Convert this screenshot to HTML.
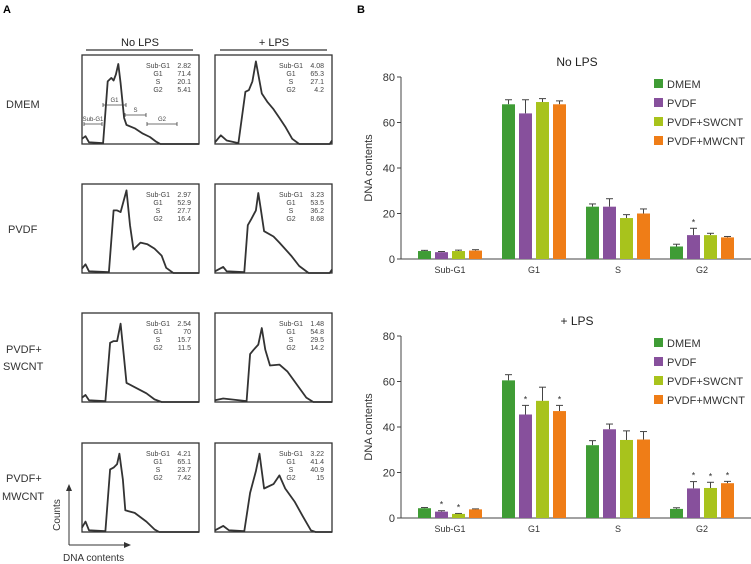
<!DOCTYPE html>
<html><head><meta charset="utf-8"><style>
body{margin:0;background:#fff;width:751px;height:564px;overflow:hidden;font-family:"Liberation Sans",sans-serif}
svg{position:absolute;left:0;top:0}
</style></head><body>
<svg id="fig" width="751" height="564" viewBox="0 0 751 564">
<text x="3" y="13" font-size="11" font-weight="bold">A</text>
<text x="357" y="13" font-size="11" font-weight="bold">B</text>
<text x="140" y="46" font-size="11" text-anchor="middle" fill="#222">No LPS</text>
<line x1="86" y1="50" x2="193" y2="50" stroke="#333" stroke-width="1.2"/>
<text x="274" y="46" font-size="11" text-anchor="middle" fill="#222">+ LPS</text>
<line x1="220" y1="50" x2="327" y2="50" stroke="#333" stroke-width="1.2"/>
<g fill="#333" font-size="11">
<text x="6" y="108">DMEM</text>
<text x="8" y="233">PVDF</text>
<text x="6" y="353">PVDF+</text>
<text x="3" y="370">SWCNT</text>
<text x="6" y="482">PVDF+</text>
<text x="2" y="500">MWCNT</text>
</g>
<g id="hists"></g>
<g>
<line x1="69" y1="545" x2="69" y2="490" stroke="#333" stroke-width="1"/>
<polygon points="69,484 66,491 72,491" fill="#333"/>
<line x1="69" y1="545" x2="125" y2="545" stroke="#333" stroke-width="1"/>
<polygon points="131,545 124,542 124,548" fill="#333"/>
<text x="60" y="515" font-size="10" fill="#333" transform="rotate(-90 60 515)" text-anchor="middle">Counts</text>
<text x="63" y="561" font-size="10" fill="#333">DNA contents</text>
</g>
<g id="charts"></g>
</svg>
<script>
const NS="http://www.w3.org/2000/svg";
function mk(p,t,a){const e=document.createElementNS(NS,t);for(const k in a)e.setAttribute(k,a[k]);p.appendChild(e);return e;}
// ---- Panel A histograms ----
const statLabels=["Sub-G1","G1","S","G2"];
const statValues=[
 [["2.82","71.4","20.1","5.41"],["4.08","65.3","27.1","4.2"]],
 [["2.97","52.9","27.7","16.4"],["3.23","53.5","36.2","8.68"]],
 [["2.54","70","15.7","11.5"],["1.48","54.8","29.5","14.2"]],
 [["4.21","65.1","23.7","7.42"],["3.22","41.4","40.9","15"]]
];
const rowTops=[55,184,313,443];
const colLefts=[82,215];
const shapes=[
 [[[0,.06],[.03,.09],[.06,.02],[.18,.01],[.22,.72],[.25,.76],[.27,.73],[.29,.8],[.31,.92],[.33,.7],[.36,.3],[.38,.22],[.45,.18],[.52,.12],[.58,.08],[.63,.03],[.67,0],[1,0]],
  [[0,.02],[.05,.1],[.1,.04],[.2,.01],[.26,.6],[.29,.62],[.32,.72],[.35,.95],[.37,.8],[.4,.58],[.45,.48],[.5,.4],[.55,.3],[.6,.2],[.66,.06],[.72,0],[.98,0],[1,.04]]],
 [[[0,.05],[.03,.1],[.06,.02],[.23,.01],[.27,.72],[.3,.72],[.33,.7],[.38,.95],[.41,.55],[.44,.27],[.5,.35],[.56,.33],[.62,.28],[.68,.2],[.72,.06],[.78,0],[1,0]],
  [[0,.02],[.07,.07],[.1,.02],[.25,.01],[.28,.55],[.31,.62],[.35,.72],[.37,.92],[.39,.75],[.42,.48],[.5,.42],[.55,.35],[.65,.2],[.72,.08],[.8,0],[.98,0],[1,.04]]],
 [[[0,.05],[.03,.08],[.06,.02],[.2,.01],[.24,.68],[.27,.7],[.3,.7],[.33,.9],[.36,.5],[.38,.22],[.45,.17],[.55,.1],[.62,.03],[.68,0],[1,0]],
  [[0,.02],[.07,.04],[.27,.01],[.3,.55],[.33,.6],[.37,.66],[.4,.85],[.43,.6],[.47,.42],[.55,.43],[.62,.35],[.7,.2],[.78,.05],[.84,0],[1,0]]],
 [[[0,.05],[.03,.12],[.06,.02],[.2,.01],[.24,.72],[.27,.74],[.3,.78],[.32,.9],[.35,.6],[.37,.25],[.45,.22],[.55,.12],[.62,.03],[.66,0],[1,0]],
  [[0,.02],[.07,.07],[.12,.02],[.25,.01],[.3,.45],[.35,.7],[.38,.9],[.42,.5],[.5,.55],[.55,.65],[.6,.5],[.68,.35],[.75,.18],[.82,.02],[.86,0],[1,0]]]
];
const BW=117,BH=89;
const hg=document.getElementById('hists');
for(let r=0;r<4;r++)for(let c=0;c<2;c++){
 const x0=colLefts[c],y0=rowTops[r];
 const g=mk(hg,'g',{});
 
 
 mk(g,'rect',{x:x0,y:y0,width:BW,height:BH,fill:'#fff',stroke:'#333','stroke-width':1.3});
 const pts=shapes[r][c].map(p=>(x0+p[0]*BW).toFixed(1)+','+(y0+BH-p[1]*(BH-2)).toFixed(1)).join(' ');
 const pl=mk(g,'polyline',{points:pts,fill:'none',stroke:'#333','stroke-width':1.8,'stroke-linejoin':'round'});
 
 
 for(let i=0;i<4;i++){
  const t1=mk(g,'text',{x:x0+76,y:y0+13+i*8,'font-size':7,'text-anchor':'middle',fill:'#444'});t1.textContent=statLabels[i];
  
  
  const t2=mk(g,'text',{x:x0+109,y:y0+13+i*8,'font-size':7,'text-anchor':'end',fill:'#444'});t2.textContent=statValues[r][c][i];
  
  
 }
}
// gates in DMEM no LPS
(function(){const g=mk(hg,'g',{stroke:'#444','stroke-width':.8});
 
 
 const gates=[["Sub-G1",84,102,124],["G1",103,126,105],["S",125,146,115],["G2",147,177,124]];
 gates.forEach(q=>{mk(g,'line',{x1:q[1],y1:q[3],x2:q[2],y2:q[3]});mk(g,'line',{x1:q[1],y1:q[3]-2,x2:q[1],y2:q[3]+2});mk(g,'line',{x1:q[2],y1:q[3]-2,x2:q[2],y2:q[3]+2});
 const t=mk(g,'text',{x:(q[1]+q[2])/2,y:q[3]-3,'font-size':6,'text-anchor':'middle',fill:'#444',stroke:'none'});t.textContent=q[0];});
})();
// ---- Panel B charts ----
const categories=["Sub-G1","G1","S","G2"];
const seriesNames=["DMEM","PVDF","PVDF+SWCNT","PVDF+MWCNT"];
const colors=["#3f9c35","#87509c","#a8c31c","#ef7d17"];
const noLpsDMEM=[3.5,68,23,5.5], noLpsDMEMErr=[0.3,2,1.2,1];
const noLpsPVDF=[3,64,23,10.5], noLpsPVDFErr=[0.3,6,3.5,3];
const noLpsSW=[3.5,69,18,10.5], noLpsSWErr=[0.4,1.5,1.5,0.8];
const noLpsMW=[3.7,68,20,9.5], noLpsMWErr=[0.4,1.5,2,0.4];
const lpsDMEM=[4.3,60.5,32,4], lpsDMEMErr=[0.3,2.5,2,0.5];
const lpsPVDF=[2.8,45.5,39,13], lpsPVDFErr=[0.4,4,2.3,3];
const lpsSW=[1.8,51.5,34.3,13.2], lpsSWErr=[0.2,6,4,2.5];
const lpsMW=[3.8,47,34.5,15.3], lpsMWErr=[0.2,2.5,3.5,0.8];
const noLpsStars=[[0,0,0,0],[0,0,0,1],[0,0,0,0],[0,0,0,0]];
const lpsStars=[[0,0,0,0],[1,1,0,1],[1,0,0,1],[0,1,0,1]];
const yTicks=[0,20,40,60,80];
const cg=document.getElementById('charts');
function chart(title,y80,y0,vals,errs,stars,legTop,name){
 const g=mk(cg,'g',{});
 
 
 const yS=v=>y0-(v/80)*(y0-y80);
 const xAxis=401, groupX=c=>450+c*84, barX=(c,s)=>groupX(c)-32+s*17;
 const t=mk(g,'text',{x:577,y:y80-11,'font-size':12,'text-anchor':'middle',fill:'#222'});t.textContent=title;
 
 
 mk(g,'line',{x1:xAxis,y1:y80,x2:xAxis,y2:y0,stroke:'#444','stroke-width':1});
 mk(g,'line',{x1:xAxis,y1:y0,x2:751,y2:y0,stroke:'#444','stroke-width':1});
 yTicks.forEach(v=>{mk(g,'line',{x1:xAxis-4,y1:yS(v),x2:xAxis,y2:yS(v),stroke:'#444'});
  const tt=mk(g,'text',{x:xAxis-6,y:yS(v)+4,'font-size':11,'text-anchor':'end',fill:'#333'});tt.textContent=v;
  
  });
 const yl=mk(g,'text',{x:0,y:0,'font-size':11,'text-anchor':'middle',fill:'#333',transform:`translate(372,${(y80+y0)/2}) rotate(-90)`});yl.textContent="DNA contents";
 
 
 categories.forEach((c,ci)=>{const tt=mk(g,'text',{x:groupX(ci),y:y0+14,'font-size':9,'text-anchor':'middle',fill:'#333'});tt.textContent=c;
  
  });
 vals.forEach((sv,s)=>sv.forEach((v,ci)=>{
  const x=barX(ci,s),top=yS(v),e=yS(v+errs[s][ci]);
  mk(g,'line',{x1:x+6.5,y1:top,x2:x+6.5,y2:e,stroke:'#444','stroke-width':1});
  mk(g,'line',{x1:x+3,y1:e,x2:x+10,y2:e,stroke:'#444','stroke-width':1});
  const b=mk(g,'rect',{x:x,y:top,width:13,height:y0-top,fill:colors[s]});
  
  
  if(stars[s][ci]){const st=mk(g,'text',{x:x+6.5,y:e-3,'font-size':9,'text-anchor':'middle',fill:'#333'});st.textContent='*';}
 }));
 seriesNames.forEach((n,s)=>{const y=legTop+s*19;
  mk(g,'rect',{x:654,y:y-5,width:9,height:9,fill:colors[s]});
  const tt=mk(g,'text',{x:667,y:y+4,'font-size':11,fill:'#333'});tt.textContent=n;
  
  });
}
chart("No LPS",77,259,[noLpsDMEM,noLpsPVDF,noLpsSW,noLpsMW],[noLpsDMEMErr,noLpsPVDFErr,noLpsSWErr,noLpsMWErr],noLpsStars,84,'chart-no-lps');
chart("+ LPS",336,518,[lpsDMEM,lpsPVDF,lpsSW,lpsMW],[lpsDMEMErr,lpsPVDFErr,lpsSWErr,lpsMWErr],lpsStars,343,'chart-lps');
</script>
</body></html>
